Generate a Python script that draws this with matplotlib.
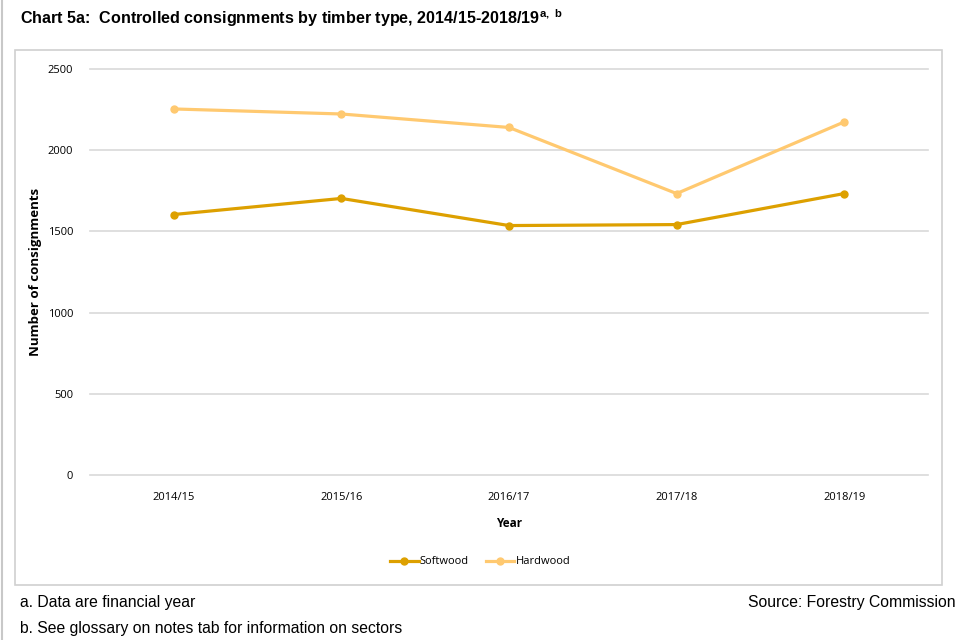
import matplotlib
matplotlib.use("Agg")
import matplotlib.pyplot as plt
from matplotlib.patches import Rectangle
from matplotlib.lines import Line2D

years = ["2014/15", "2015/16", "2016/17", "2017/18", "2018/19"]
softwood = [1604, 1703, 1536, 1542, 1733]
hardwood = [2254, 2223, 2140, 1733, 2174]
yticks = [0, 500, 1000, 1500, 2000, 2500]

soft_c = "#DDA000"
hard_c = "#FFC970"
W, H = 960, 640
fig = plt.figure(figsize=(9.6, 6.4), dpi=100)
narrow = ["Liberation Sans Narrow", "Liberation Sans", "DejaVu Sans"]
small = ["Open Sans", "DejaVu Sans"]

# outer chart box and left border line
fig.patches.append(Rectangle((15 / W, 1 - 585 / H), (942 - 15) / W, (585 - 50) / H,
                             transform=fig.transFigure, fill=False,
                             edgecolor="#d0d0d0", linewidth=1.2))
fig.lines.append(Line2D([2 / W, 2 / W], [0, 1], transform=fig.transFigure,
                        color="#c8c8c8", linewidth=1.5))

ax = fig.add_axes([90 / W, 1 - 475 / H, 838 / W, (475 - 69) / H])
x = list(range(len(years)))
for v in yticks:
    ax.axhline(v, color="#d9d9d9", lw=1.2, clip_on=False, zorder=0)
ax.plot(x, softwood, color=soft_c, lw=2.3, marker="o", ms=5, label="Softwood")
ax.plot(x, hardwood, color=hard_c, lw=2.3, marker="o", ms=5, label="Hardwood")
ax.set_xlim(-0.5, len(years) - 0.5)
ax.set_ylim(0, 2500)
ax.set_yticks(yticks)
ax.set_yticklabels([str(v) for v in yticks], fontsize=8, family=small)
ax.set_xticks(x)
ax.set_xticklabels(years, fontsize=8, family=small)
for s in ax.spines.values():
    s.set_visible(False)
ax.tick_params(length=0, pad=12)
ax.tick_params(axis="y", pad=12)
ax.set_xlabel("Year", fontsize=8.5, family=small, fontweight="bold", labelpad=10)
ax.set_ylabel("Number of consignments", fontsize=9.5, family=small, fontweight="bold")
ax.yaxis.set_label_coords(-0.057, 0.5)

leg = fig.legend(loc="center", bbox_to_anchor=(480 / W, 1 - 562 / H), ncol=2,
                 frameon=False, prop={"family": small, "size": 8},
                 handlelength=2.6, columnspacing=1.5, handletextpad=0.1)

fig.text(20 / W, 1 - 18 / H,
         r"Chart 5a:  Controlled consignments by timber type, 2014/15-2018/19$^{\mathregular{a,\ b}}$",
         family=narrow, fontsize=11.6, fontweight="bold", va="center", ha="left")
fig.text(20 / W, 1 - 603 / H, "a. Data are financial year", family=narrow,
         fontsize=11.3, va="center", ha="left")
fig.text(20 / W, 1 - 628 / H, "b. See glossary on notes tab for information on sectors",
         family=narrow, fontsize=11.3, va="center", ha="left")
fig.text(956 / W, 1 - 603 / H, "Source: Forestry Commission", family=narrow,
         fontsize=11.3, va="center", ha="right")

fig.savefig("out.png", dpi=100)
